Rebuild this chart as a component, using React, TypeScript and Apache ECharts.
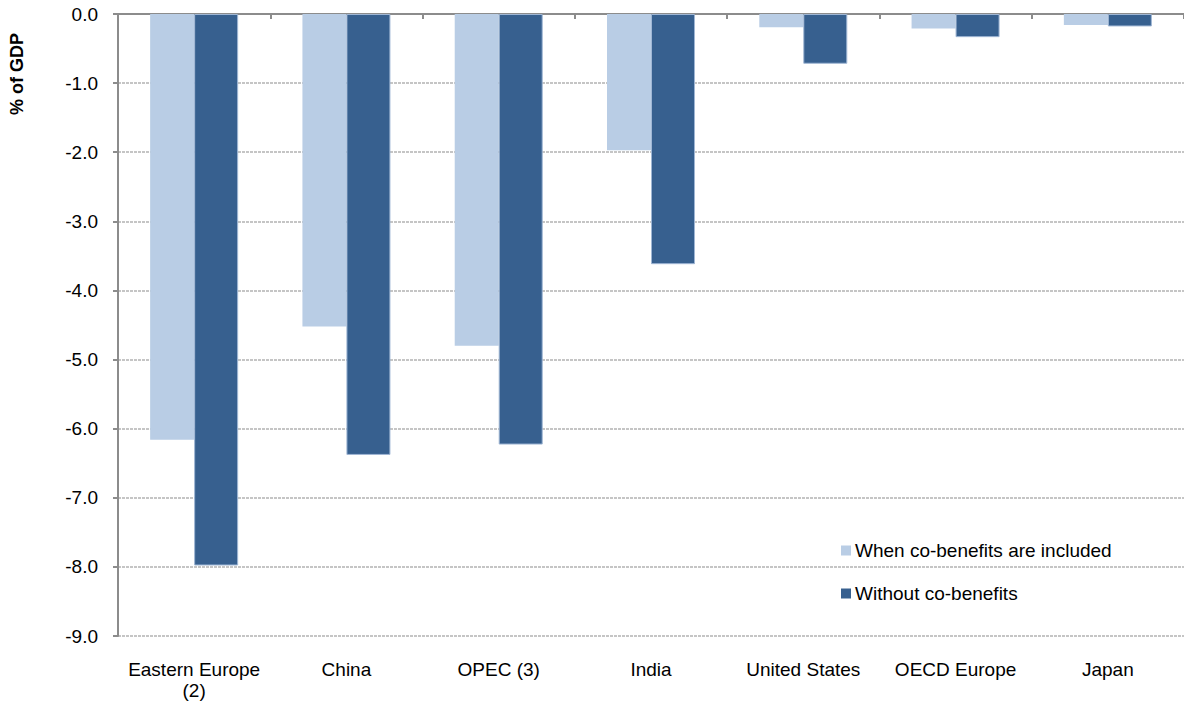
import React, { useEffect, useRef } from "react";
import * as echarts from "echarts";

const categories = [
  "Eastern Europe\n(2)",
  "China",
  "OPEC (3)",
  "India",
  "United States",
  "OECD Europe",
  "Japan",
];
const withCoBenefits = [-6.16, -4.52, -4.8, -1.97, -0.19, -0.21, -0.16];
const withoutCoBenefits = [-7.98, -6.38, -6.23, -3.62, -0.72, -0.335, -0.18];
const seriesNames = ["When co-benefits are included", "Without co-benefits"];
const yAxisTitle = "% of GDP";

const FONT = "'Liberation Sans', Arial, sans-serif";

export default function App() {
  const ref = useRef<HTMLDivElement>(null);
  useEffect(() => {
    document.body.style.margin = "0";
    if (!ref.current) return;
    const chart = echarts.init(ref.current, undefined, { renderer: "svg" });
    chart.setOption({
      animation: false,
      textStyle: { fontFamily: FONT },
      grid: { left: 118, top: 14, right: -6, bottom: 67 },
      legend: {
        orient: "vertical",
        left: 836,
        top: 536,
        itemWidth: 10,
        itemHeight: 10,
        itemGap: 24,
        icon: "rect",
        itemStyle: { borderWidth: 0 },
        textStyle: { fontSize: 19, color: "#000", fontFamily: FONT, padding: [0, 0, 0, -1] },
        data: seriesNames,
      },
      graphic: [
        {
          type: "text",
          x: 17,
          y: 74,
          rotation: Math.PI / 2,
          style: {
            text: yAxisTitle,
            fontSize: 18,
            fontWeight: "bold",
            fontFamily: FONT,
            fill: "#000",
            align: "center",
            verticalAlign: "middle",
          },
        },
      ],
      xAxis: [
        {
          type: "category",
          data: categories,
          position: "top",
          axisLine: { show: true, onZero: false, lineStyle: { color: "#8c8c8c", width: 2 } },
          axisTick: { show: true, inside: true, length: 5, lineStyle: { color: "#8c8c8c", width: 2 } },
          axisLabel: { show: false },
          splitLine: { show: false },
        },
        {
          type: "category",
          data: categories,
          position: "bottom",
          axisLine: { show: false },
          axisTick: { show: false },
          axisLabel: {
            show: true,
            margin: 23,
            fontSize: 19,
            lineHeight: 21,
            color: "#000",
            fontFamily: FONT,
            interval: 0,
          },
          splitLine: { show: false },
        },
      ],
      yAxis: {
        type: "value",
        min: -9,
        max: 0,
        interval: 1,
        axisLine: { show: true, lineStyle: { color: "#8c8c8c", width: 2 } },
        axisTick: { show: true, length: 5, lineStyle: { color: "#8c8c8c", width: 2 } },
        axisLabel: {
          margin: 20,
          fontSize: 19,
          color: "#000",
          fontFamily: FONT,
          formatter: (v: number) => v.toFixed(1),
        },
        splitLine: {
          show: true,
          lineStyle: { color: "#b3b3b3", width: 1.5, type: [3, 1] },
        },
      },
      series: [
        {
          name: seriesNames[0],
          type: "bar",
          xAxisIndex: 0,
          data: withCoBenefits,
          barWidth: 44,
          barGap: "0%",
          itemStyle: { color: "#b9cde5" },
        },
        {
          name: seriesNames[1],
          type: "bar",
          xAxisIndex: 0,
          data: withoutCoBenefits,
          barWidth: 44,
          barGap: "0%",
          itemStyle: { color: "#37608f", borderColor: "#9fb6d4", borderWidth: 1 },
        },
      ],
    });
    return () => chart.dispose();
  }, []);
  return <div ref={ref} style={{ width: 1184, height: 703 }} />;
}
